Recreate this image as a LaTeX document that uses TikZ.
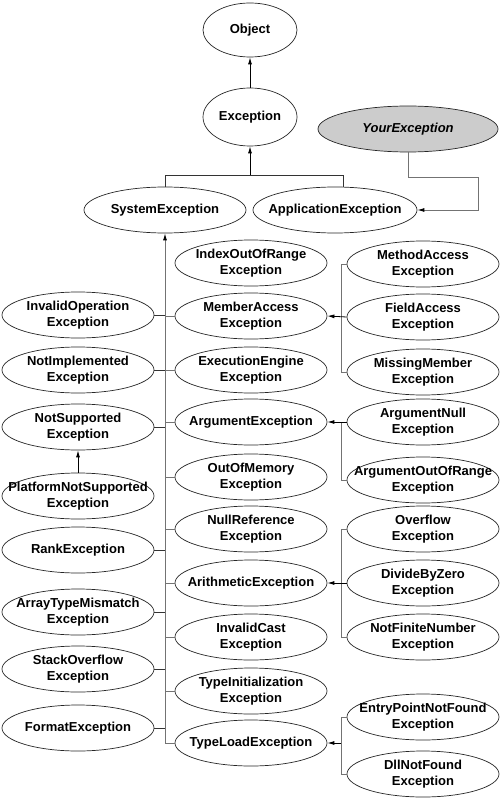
\documentclass[tikz,border=0pt]{standalone}
\usepackage{fontspec}
\setmainfont{Liberation Sans}
\usetikzlibrary{shapes.geometric,arrows.meta}
\tikzset{
  ell/.style={ellipse, draw=black!85, line width=0.7pt, fill=white, inner sep=0pt, minimum width=152pt, minimum height=46pt},
  lab/.style={align=center, inner sep=0pt, font=\bfseries\fontsize{13}{15.5}\selectfont},
  arr/.style={-{Latex[length=7pt,width=4pt]}, line width=0.8pt, draw=black},
  garr/.style={-{Latex[length=7pt,width=4pt,color=black]}, line width=0.9pt, draw=black!55},
  dk/.style={line width=0.9pt, draw=black!80},
  gr/.style={line width=0.9pt, draw=black!55},
}
\newcommand\enode[4][]{\node[ell,#1] (#2) at (#3) {}; \node[lab] at (#2) {#4};}
\begin{document}
\begin{tikzpicture}[x=1pt,y=-1pt]
\useasboundingbox (0,0) rectangle (500,802);
% top
\enode[minimum width=94pt, minimum height=54pt]{obj}{250,30}{Object}
\enode[minimum width=94pt, minimum height=58pt]{exc}{250,117}{Exception}
\node[ell, fill=black!20, minimum width=180pt, minimum height=46pt] (your) at (408,129) {};
\node[lab, font=\bfseries\itshape\fontsize{13}{15.5}\selectfont] at (your) {YourException};
\enode[minimum width=162pt]{sys}{165,210}{SystemException}
\enode[minimum width=164pt]{app}{335,210}{ApplicationException}
% left column
\enode{invop}{78,315}{InvalidOperation\\Exception}
\enode{notimpl}{78,370}{NotImplemented\\Exception}
\enode{notsup}{78,427}{NotSupported\\Exception}
\enode{platform}{78,496}{PlatformNotSupported\\Exception}
\enode{rank}{78,550}{RankException}
\enode{array}{78,612}{ArrayTypeMismatch\\Exception}
\enode{stack}{78,669}{StackOverflow\\Exception}
\enode{format}{78,728}{FormatException}
% middle column
\enode{index}{251,263}{IndexOutOfRange\\Exception}
\enode{member}{251,316}{MemberAccess\\Exception}
\enode{execeng}{251,370}{ExecutionEngine\\Exception}
\enode{argument}{251,422}{ArgumentException}
\enode{outofmem}{251,477}{OutOfMemory\\Exception}
\enode{nullref}{251,529}{NullReference\\Exception}
\enode{arith}{251,583}{ArithmeticException}
\enode{invcast}{251,637}{InvalidCast\\Exception}
\enode{typeinit}{251,691}{TypeInitialization\\Exception}
\enode{typeload}{251,743}{TypeLoadException}
% right column
\enode{method}{423,264}{MethodAccess\\Exception}
\enode{field}{423,317}{FieldAccess\\Exception}
\enode{missing}{423,372}{MissingMember\\Exception}
\enode{argnull}{423,422}{ArgumentNull\\Exception}
\enode{argoor}{423,480}{ArgumentOutOfRange\\Exception}
\enode{overflow}{423,529}{Overflow\\Exception}
\enode{divzero}{423,583}{DivideByZero\\Exception}
\enode{notfinite}{423,637}{NotFiniteNumber\\Exception}
\enode{entry}{423,717}{EntryPointNotFound\\Exception}
\enode{dll}{423,774}{DllNotFound\\Exception}
% coordinates
\coordinate (busL) at (165,175);
\coordinate (busM) at (250,175);
\coordinate (busR) at (343,175);
\coordinate (yb) at (478,177);
\coordinate (tl) at (165,743);
\coordinate (bx) at (341,0);
% top connectors
\draw[arr] (exc) -- (obj);
\draw[arr] (busM) -- (exc.south);
\draw[dk] (sys.north) -- (busL) -- (busR) -- (app.north -| busR);
\draw[garr] (your.south) |- (yb) |- (app.east);
% trunk
\draw[gr] (typeload.west) -- (tl);
\draw[garr] (tl) -- (sys.south);
% left connectors
\foreach \n in {invop,notimpl,notsup,rank,array,stack,format}
  \draw[dk] (\n.east) -- (\n.east -| tl);
\draw[arr] (platform) -- (notsup);
% middle connectors
\foreach \n in {member,execeng,argument,outofmem,nullref,arith,invcast,typeinit}
  \draw[gr] (\n.west -| tl) -- (\n.west);
% right brackets
\draw[gr] (method.west) -- (method.west -| bx) -- (missing.west -| bx) -- (missing.west);
\draw[arr] (field.west) -- (member.east);
\draw[gr] (argnull.west -| bx) -- (argoor.west -| bx) -- (argoor.west);
\draw[arr] (argnull.west) -- (argument.east);
\draw[gr] (overflow.west) -- (overflow.west -| bx) -- (notfinite.west -| bx) -- (notfinite.west);
\draw[arr] (divzero.west) -- (arith.east);
\draw[gr] (entry.west) -- (entry.west -| bx) -- (dll.west -| bx) -- (dll.west);
\draw[arr] (typeload.east -| bx) -- (typeload.east);
\end{tikzpicture}
\end{document}
